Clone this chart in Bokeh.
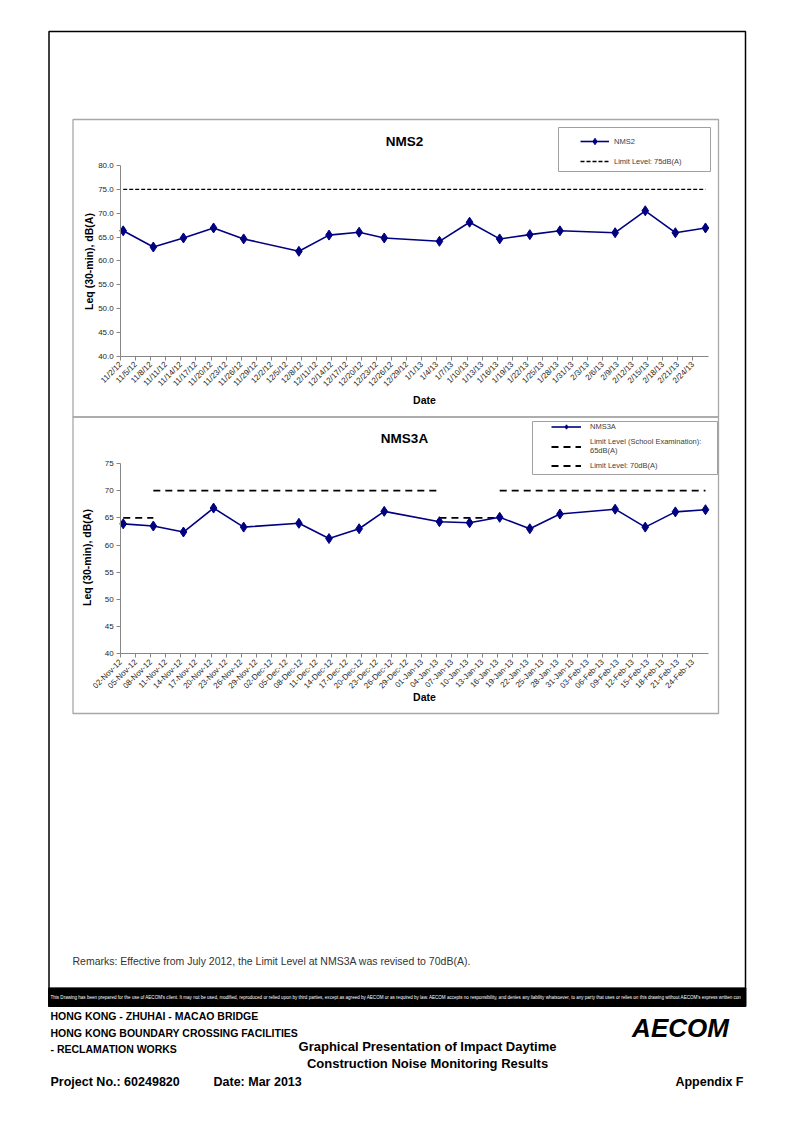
import math
import numpy as np
import pandas as pd
from bokeh.plotting import figure
from bokeh.models import (Range1d, LinearAxis, FixedTicker, Legend, LegendItem,
                          ColumnDataSource, Label, NumeralTickFormatter)
from bokeh.embed import file_html
from bokeh.resources import INLINE

# ---------------- data ----------------
nan = float("nan")
dates = ["2012-11-02", "2012-11-08", "2012-11-14", "2012-11-20", "2012-11-26",
         "2012-12-07", "2012-12-13", "2012-12-19", "2012-12-24", "2013-01-04",
         "2013-01-10", "2013-01-16", "2013-01-22", "2013-01-28", "2013-02-08",
         "2013-02-14", "2013-02-20", "2013-02-26"]
nms2 = [66.3, 62.9, 64.8, 66.9, 64.6, 62.0, 65.4, 66.0, 64.8, 64.1,
        68.1, 64.6, 65.5, 66.3, 65.9, 70.5, 65.9, 66.9]
nms2_limit = [75, 75, 75, 75, 75, 75, 75, 75, 75, 75, 75, 75, 75, 75, 75, 75, 75, 75]
nms3a = [63.9, 63.5, 62.4, 66.8, 63.3, 64.0, 61.2, 63.0, 66.2, 64.3,
         64.1, 65.1, 63.0, 65.7, 66.6, 63.3, 66.1, 66.5]
nms3a_limit_school = [65, 65, nan, nan, nan, nan, nan, nan, nan, 65,
                      65, 65, nan, nan, nan, nan, nan, nan]
nms3a_limit_70 = [nan, 70, 70, 70, 70, 70, 70, 70, 70, 70,
                  nan, 70, 70, 70, 70, 70, 70, 70]

nms2_yticks = [40, 45, 50, 55, 60, 65, 70, 75, 80]
nms3a_yticks = [40, 45, 50, 55, 60, 65, 70, 75]
nms2_xticks = ["11/2/12", "11/5/12", "11/8/12", "11/11/12", "11/14/12", "11/17/12",
               "11/20/12", "11/23/12", "11/26/12", "11/29/12", "12/2/12", "12/5/12",
               "12/8/12", "12/11/12", "12/14/12", "12/17/12", "12/20/12", "12/23/12",
               "12/26/12", "12/29/12", "1/1/13", "1/4/13", "1/7/13", "1/10/13",
               "1/13/13", "1/16/13", "1/19/13", "1/22/13", "1/25/13", "1/28/13",
               "1/31/13", "2/3/13", "2/6/13", "2/9/13", "2/12/13", "2/15/13",
               "2/18/13", "2/21/13", "2/24/13"]
nms3a_xticks = ["02-Nov-12", "05-Nov-12", "08-Nov-12", "11-Nov-12", "14-Nov-12",
                "17-Nov-12", "20-Nov-12", "23-Nov-12", "26-Nov-12", "29-Nov-12",
                "02-Dec-12", "05-Dec-12", "08-Dec-12", "11-Dec-12", "14-Dec-12",
                "17-Dec-12", "20-Dec-12", "23-Dec-12", "26-Dec-12", "29-Dec-12",
                "01-Jan-13", "04-Jan-13", "07-Jan-13", "10-Jan-13", "13-Jan-13",
                "16-Jan-13", "19-Jan-13", "22-Jan-13", "25-Jan-13", "28-Jan-13",
                "31-Jan-13", "03-Feb-13", "06-Feb-13", "09-Feb-13", "12-Feb-13",
                "15-Feb-13", "18-Feb-13", "21-Feb-13", "24-Feb-13"]
axis_start_date = "2012-11-02"
axis_end_date = "2013-02-27"

# ---------------- helpers ----------------
EPOCH = pd.Timestamp("1970-01-01")


def to_ms(idx):
    return [int((pd.Timestamp(t) - EPOCH) // pd.Timedelta(milliseconds=1)) for t in idx]


x_pts = [v + 12 * 3600 * 1000 for v in to_ms(pd.to_datetime(dates))]  # Excel: mid-day slot
t0 = to_ms([axis_start_date])[0]
t1 = to_ms([axis_end_date])[0]
ticks_top = to_ms(pd.to_datetime(nms2_xticks, format="%m/%d/%y"))
ticks_bot = to_ms(pd.to_datetime(nms3a_xticks, format="%d-%b-%y"))

PAGE_W, PAGE_H, OFF = 778, 1100, 0
FONT = "Liberation Sans"


def mapped_range(v_a, px_a, v_b, px_b, px_start, px_end):
    k = (v_b - v_a) / (px_b - px_a)
    return Range1d(start=v_a + (px_start - px_a) * k, end=v_a + (px_end - px_a) * k)


p = figure(width=PAGE_W, height=PAGE_H,
           x_range=Range1d(OFF, OFF + PAGE_W), y_range=Range1d(OFF + PAGE_H, OFF),
           output_backend="svg", toolbar_location=None, min_border=0,
           x_axis_location=None, y_axis_location=None,
           background_fill_color="white", border_fill_color="white")
p.outline_line_color = None
p.xgrid.visible = False
p.ygrid.visible = False

p.extra_x_ranges = {"t": mapped_range(t0, 120.2, t1, 707.5, OFF, OFF + PAGE_W)}
p.extra_y_ranges = {
    "c1": mapped_range(40, 355.7, 80, 165.0, OFF + PAGE_H, OFF),
    "c2": mapped_range(40, 653.3, 75, 463.0, OFF + PAGE_H, OFF),
}

# ---------------- page decorations ----------------
p.quad(left=[48.5], right=[745], top=[31], bottom=[988], fill_color=None,
       line_color="black", line_width=1.5)
p.quad(left=[48], right=[745.5], top=[987.5], bottom=[1006], fill_color="black",
       line_color="black")
p.quad(left=[72.5, 72.5], right=[718, 718], top=[119, 416.5], bottom=[416.5, 713],
       fill_color=None, line_color="#a8a8a8", line_width=1.3)
p.quad(left=[558, 532], right=[710, 717], top=[127, 421], bottom=[171, 474],
       fill_color="white", line_color="#a0a0a0", line_width=1)


def style_axis(ax):
    ax.axis_line_color = "#868686"
    ax.axis_line_width = 1
    ax.major_tick_line_color = "#868686"
    ax.major_tick_out = 4
    ax.major_tick_in = 0
    ax.minor_tick_line_color = None
    ax.major_label_text_font = FONT
    ax.major_label_text_font_size = "8px"
    ax.major_label_text_color = "#262626"
    ax.major_label_standoff = 3


def add_axes(yname, ylo, yhi, yticks, yfmt, xticks, xlabels):
    xa = LinearAxis(x_range_name="t", y_range_name=yname, fixed_location=ylo,
                    bounds=(t0, t1), ticker=FixedTicker(ticks=xticks),
                    major_label_overrides={int(k): v for k, v in zip(xticks, xlabels)},
                    major_label_orientation=math.pi / 4)
    style_axis(xa)
    p.add_layout(xa, "below")
    ya = LinearAxis(x_range_name="t", y_range_name=yname, fixed_location=t0,
                    bounds=(ylo, yhi), ticker=FixedTicker(ticks=yticks),
                    formatter=NumeralTickFormatter(format=yfmt))
    style_axis(ya)
    p.add_layout(ya, "left")


add_axes("c1", 40, 80, nms2_yticks, "0.0", ticks_top, nms2_xticks)
add_axes("c2", 40, 75, nms3a_yticks, "0", ticks_bot, nms3a_xticks)

NAVY = "#000080"

# ---------------- chart 1: NMS2 ----------------
src1 = ColumnDataSource(dict(x=x_pts, v=nms2, lim=nms2_limit))
r_lim1 = p.line("x", "lim", source=src1, x_range_name="t", y_range_name="c1",
                line_color="black", line_width=1.3, line_dash="4 2")
r_l1 = p.line("x", "v", source=src1, x_range_name="t", y_range_name="c1",
              line_color=NAVY, line_width=1.6)
r_s1 = p.scatter("x", "v", source=src1, x_range_name="t", y_range_name="c1",
                 marker="diamond", size=10, fill_color=NAVY, line_color=NAVY)

# ---------------- chart 2: NMS3A ----------------
src2 = ColumnDataSource(dict(x=x_pts, v=nms3a, sch=nms3a_limit_school, l70=nms3a_limit_70))
r_sch = p.line("x", "sch", source=src2, x_range_name="t", y_range_name="c2",
               line_color="black", line_width=1.8, line_dash="7 5")
r_70 = p.line("x", "l70", source=src2, x_range_name="t", y_range_name="c2",
              line_color="black", line_width=1.8, line_dash="7 5")
r_l2 = p.line("x", "v", source=src2, x_range_name="t", y_range_name="c2",
              line_color=NAVY, line_width=1.6)
r_s2 = p.scatter("x", "v", source=src2, x_range_name="t", y_range_name="c2",
                 marker="diamond", size=10, fill_color=NAVY, line_color=NAVY)


# ---------------- legends ----------------
def make_legend(items, left_px, bottom_px, **kw):
    lg = Legend(items=items, location=(left_px - OFF, OFF + PAGE_H - bottom_px),
                border_line_color=None, background_fill_alpha=0, margin=0,
                label_text_font=FONT, label_text_font_size="7.5px",
                label_text_color="#404040", **kw)
    p.add_layout(lg)


make_legend([LegendItem(label="NMS2", renderers=[r_l1, r_s1]),
             LegendItem(label="Limit Level: 75dB(A)", renderers=[r_lim1])],
            580, 169, padding=3, spacing=4, glyph_height=16, label_height=16,
            glyph_width=29, label_standoff=5)
make_legend([LegendItem(label="NMS3A", renderers=[r_l2, r_s2]),
             LegendItem(label="Limit Level (School Examination):\n65dB(A)", renderers=[r_sch]),
             LegendItem(label="Limit Level: 70dB(A)", renderers=[r_70])],
            551, 471, padding=2, spacing=5, glyph_height=11, label_height=11,
            glyph_width=30, label_standoff=9)


# ---------------- texts ----------------
def lab(x, y, text, size, bold=False, align="left", color="black", angle=0.0,
        font=FONT, italic=False):
    style = "bold" if bold else "normal"
    if italic:
        style = "bold italic" if bold else "italic"
    p.add_layout(Label(x=x, y=y, text=text, text_font=font, text_font_size=size,
                       text_font_style=style, text_align=align, text_baseline="middle",
                       text_color=color, angle=angle))


lab(404, 141, "NMS2", "13.5px", bold=True, align="center")
lab(404, 438, "NMS3A", "13.5px", bold=True, align="center")
lab(88, 261, "Leq (30-min), dB(A)", "10.5px", bold=True, align="center", angle=math.pi / 2)
lab(86, 557, "Leq (30-min), dB(A)", "10.5px", bold=True, align="center", angle=math.pi / 2)
lab(424, 399, "Date", "10.5px", bold=True, align="center")
lab(424, 696, "Date", "10.5px", bold=True, align="center")

lab(72, 960, "Remarks: Effective from July 2012, the Limit Level at NMS3A was revised to 70dB(A).",
    "10.5px", color="#333333")
lab(50, 997, "This Drawing has been prepared for the use of AECOM's client. It may not be used, "
             "modified, reproduced or relied upon by third parties, except as agreed by AECOM or as "
             "required by law. AECOM accepts no responsibility, and denies any liability whatsoever, "
             "to any party that uses or relies on this drawing without AECOM's express written con",
    "4.55px", color="white", font=FONT)

lab(50, 1015, "HONG KONG - ZHUHAI - MACAO BRIDGE", "10.5px", bold=True)
lab(50, 1032, "HONG KONG BOUNDARY CROSSING FACILITIES", "10.5px", bold=True)
lab(50, 1048, "- RECLAMATION WORKS", "10.5px", bold=True)
lab(427, 1046, "Graphical Presentation of Impact Daytime", "13px", bold=True, align="center")
lab(427, 1063, "Construction Noise Monitoring Results", "13px", bold=True, align="center")
lab(50, 1081, "Project No.: 60249820", "12.5px", bold=True)
lab(213, 1081, "Date: Mar 2013", "12.5px", bold=True)
lab(743, 1081, "Appendix F", "12.5px", bold=True, align="right")
lab(680, 1027, "AECOM", "26px", bold=True, italic=True, align="center")

open("out.html", "w").write(file_html(p, INLINE))
